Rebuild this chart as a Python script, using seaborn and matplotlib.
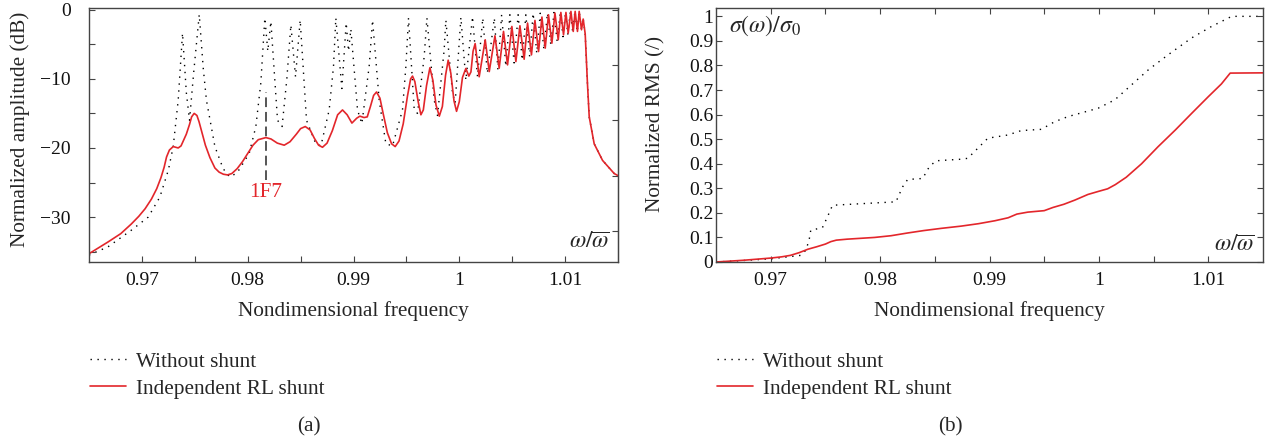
import matplotlib
matplotlib.use("Agg")
import matplotlib.pyplot as plt
import seaborn as sns
import pandas as pd
from matplotlib.ticker import FixedLocator, FuncFormatter, NullFormatter

# ---------------- data ----------------
# (a) Frequency response, without shunt (dotted)
freq_no_shunt = [0.9650, 0.9668, 0.9690, 0.9706, 0.9717, 0.9725, 0.97296, 0.97343, 0.97384, 0.9742,
                 0.9745, 0.9749, 0.97542, 0.9758, 0.9761, 0.9769, 0.97768, 0.9783, 0.9790, 0.98014,
                 0.98077, 0.98124, 0.98162, 0.9819, 0.98219, 0.98282, 0.98325, 0.9837, 0.98408, 0.98452,
                 0.98496, 0.98556, 0.98644, 0.98692, 0.9877, 0.98811, 0.98833, 0.9889, 0.98931, 0.98953,
                 0.98975, 0.99038, 0.99079, 0.99148, 0.9918, 0.99243, 0.99306, 0.99369, 0.99463, 0.99495,
                 0.9952, 0.99574, 0.99605, 0.99668, 0.99694, 0.99763, 0.99794, 0.99857, 0.99873, 0.99936,
                 0.99961, 1.00015, 1.00062, 1.00125, 1.00172, 1.00222, 1.00265, 1.00331, 1.00365, 1.0040,
                 1.0044, 1.00478, 1.00518, 1.00556, 1.00595, 1.00629, 1.00665, 1.00698, 1.00732, 1.00765,
                 1.0080, 1.00833, 1.00865, 1.00895, 1.00925, 1.00955, 1.0098, 1.01005, 1.01025, 1.0105,
                 1.01072, 1.01093, 1.01115, 1.01133, 1.01155, 1.01171, 1.0119, 1.01211, 1.01228, 1.01275,
                 1.01354, 1.01464, 1.0150]
amp_no_shunt = [-35.5, -34.3, -31.9, -30.0, -27.1, -23.2, -19.8, -13.1, -3.4, -12.0,
                -16.0, -9.0, -0.7, -8.5, -13.1, -19.8, -23.0, -24.2, -23.6, -20.8,
                -16.9, -10.6, -1.2, -6.0, -1.7, -16.0, -16.9, -10.0, -2.2, -9.7,
                -1.5, -16.0, -19.4, -19.7, -14.5, -8.2, -1.2, -11.4, -1.9, -6.0,
                -2.8, -14.5, -16.5, -8.2, -1.5, -13.1, -19.4, -19.7, -14.5, -8.2,
                -1.2, -14.5, -15.0, -6.8, -1.2, -13.1, -15.3, -5.8, -1.5, -12.1,
                -13.5, -1.1, -10.2, -1.0, -9.7, -1.2, -9.2, -1.2, -8.7, -0.73,
                -8.2, -0.73, -7.7, -0.73, -7.3, -0.73, -6.8, -0.5, -6.3, -0.5,
                -5.8, -0.48, -5.1, -0.4, -4.6, -0.35, -3.9, -0.3, -3.6, -0.2,
                -3.3, -0.2, -3.2, -0.2, -2.9, -1.35, -3.5, -10.6, -15.5, -19.4,
                -21.8, -23.7, -24.0]

# (a) Frequency response, independent RL shunt (red)
freq_rl = [0.9650, 0.9668, 0.9680, 0.9690, 0.9697, 0.9703, 0.9709, 0.9714, 0.9718, 0.9721,
           0.97233, 0.9726, 0.97296, 0.9732, 0.97343, 0.9737, 0.9740, 0.9742, 0.9745, 0.9747,
           0.97494, 0.9752, 0.9754, 0.97563, 0.9760, 0.97643, 0.9769, 0.9773, 0.9777, 0.97809,
           0.9785, 0.9790, 0.9795, 0.9800, 0.9805, 0.9810, 0.98172, 0.9822, 0.9828, 0.98345,
           0.9840, 0.9846, 0.9850, 0.98544, 0.9859, 0.9863, 0.9867, 0.98707, 0.9875, 0.9880,
           0.9885, 0.98896, 0.9894, 0.98985, 0.9903, 0.9906, 0.9910, 0.9913, 0.9916, 0.9919,
           0.99218, 0.9925, 0.9928, 0.9932, 0.9936, 0.99394, 0.9943, 0.9947, 0.9951, 0.9954,
           0.99558, 0.9958, 0.9961, 0.99637, 0.9966, 0.9969, 0.99722, 0.9975, 0.9978, 0.99811,
           0.9984, 0.9987, 0.99895, 0.9992, 0.9995, 0.99974, 1.0000, 1.0003, 1.00062, 1.0009,
           1.0011, 1.0013, 1.0015, 1.00188, 1.00245, 1.00283, 1.00337, 1.00377, 1.00418, 1.00456,
           1.00497, 1.00535, 1.00573, 1.00613, 1.00645, 1.00682, 1.00715, 1.00749, 1.00781, 1.00812,
           1.00843, 1.00875, 1.00904, 1.00935, 1.0096, 1.00985, 1.01008, 1.01029, 1.01055, 1.01077,
           1.01095, 1.01117, 1.01133, 1.01155, 1.01171, 1.0119, 1.01211, 1.01228, 1.01275, 1.01354,
           1.01464, 1.0150]
amp_rl = [-35.3, -33.6, -32.4, -31.0, -29.9, -28.8, -27.4, -25.9, -24.3, -22.8,
          -21.3, -20.3, -19.8, -19.9, -20.0, -19.7, -18.7, -18.0, -16.6, -15.5,
          -15.0, -15.3, -16.2, -17.5, -19.6, -21.4, -22.9, -23.5, -23.8, -23.9,
          -23.7, -23.0, -22.0, -20.8, -19.6, -18.8, -18.5, -18.7, -19.3, -19.6,
          -19.1, -18.0, -17.2, -16.9, -17.4, -18.6, -19.6, -19.9, -19.3, -17.5,
          -15.2, -14.5, -15.2, -16.4, -15.7, -15.4, -15.6, -15.5, -14.0, -12.4,
          -11.9, -12.8, -15.0, -17.8, -19.4, -19.8, -19.0, -16.5, -12.5, -10.0,
          -9.6, -10.4, -13.2, -15.2, -14.5, -11.0, -8.4, -10.2, -13.8, -15.4,
          -14.0, -9.5, -7.3, -9.2, -13.2, -14.7, -13.3, -9.8, -8.5, -9.6,
          -9.0, -6.0, -4.9, -9.7, -4.35, -8.95, -3.77, -8.46, -3.14, -7.98,
          -2.42, -7.5, -2.32, -7.16, -1.93, -6.53, -1.55, -6.05, -1.06, -5.56,
          -0.73, -4.84, -0.48, -4.35, -0.39, -3.63, -0.39, -3.39, -0.24, -3.14,
          -0.24, -3.14, -0.24, -2.9, -1.35, -3.5, -10.6, -15.5, -19.4, -21.8,
          -23.7, -24.0]

# (b) Normalized RMS
rms_freq_no_shunt = [0.965, 0.9675, 0.970, 0.97275, 0.97321, 0.97351, 0.97366, 0.97473, 0.97519, 0.97565,
                     0.98145, 0.98206, 0.98252, 0.98389, 0.9845, 0.98511, 0.98725, 0.98801, 0.98893, 0.98985,
                     0.99168, 0.9929, 0.99473, 0.99595, 0.99718, 0.99993, 1.00145, 1.00298, 1.00451, 1.00634,
                     1.00847, 1.0103, 1.01214, 1.0150]
rms_no_shunt = [0.0, 0.006, 0.013, 0.027, 0.048, 0.089, 0.129, 0.14, 0.184, 0.231,
                0.245, 0.306, 0.336, 0.34, 0.388, 0.412, 0.418, 0.422, 0.463, 0.504,
                0.517, 0.535, 0.54, 0.571, 0.592, 0.626, 0.66, 0.721, 0.782, 0.844,
                0.912, 0.959, 1.0, 1.0]
rms_freq_rl = [0.965, 0.9675, 0.9700, 0.9710, 0.9718, 0.9726, 0.9734, 0.9742, 0.9750, 0.9755,
               0.9760, 0.9770, 0.9795, 0.9810, 0.9825, 0.9840, 0.9856, 0.9874, 0.9890, 0.9905,
               0.9917, 0.9925, 0.9935, 0.9950, 0.9958, 0.9968, 0.9978, 0.9990, 1.0000, 1.0008,
               1.0015, 1.0025, 1.0039, 1.0054, 1.0070, 1.0085, 1.0100, 1.0112, 1.0120, 1.0150]
rms_rl = [0.0, 0.007, 0.016, 0.021, 0.027, 0.038, 0.052, 0.062, 0.073, 0.083,
          0.089, 0.093, 0.100, 0.107, 0.118, 0.128, 0.137, 0.146, 0.156, 0.168,
          0.180, 0.195, 0.203, 0.209, 0.222, 0.235, 0.252, 0.275, 0.288, 0.298,
          0.315, 0.345, 0.400, 0.469, 0.538, 0.606, 0.673, 0.725, 0.769, 0.770]

series_labels = ["Without shunt", "Independent RL shunt"]
mode_label = "1F7"
mode_freq = 0.98172
mode_span = (-24.6, -11.9)

# ---------------- style ----------------
sns.set_style("ticks")
plt.rcParams["font.family"] = ["Liberation Serif", "DejaVu Serif"]
plt.rcParams["mathtext.fontset"] = "stix"

RED = "#e3262b"
SPINE = "#444444"
DOT = (0, (1, 4))
FS = 14
LFS = 15.3

fig = plt.figure(figsize=(12.68, 4.42), dpi=100)
W, H = 1268, 442
ax1 = fig.add_axes([89 / W, 1 - 262 / H, (618 - 89) / W, (262 - 8) / H])
ax2 = fig.add_axes([716 / W, 1 - 262 / H, (1263 - 716) / W, (262 - 8) / H])

df_a_no = pd.DataFrame({"f": freq_no_shunt, "amp": amp_no_shunt})
df_a_rl = pd.DataFrame({"f": freq_rl, "amp": amp_rl})
df_b_no = pd.DataFrame({"f": rms_freq_no_shunt, "rms": rms_no_shunt})
df_b_rl = pd.DataFrame({"f": rms_freq_rl, "rms": rms_rl})

sns.lineplot(data=df_a_no, x="f", y="amp", ax=ax1, color="black", linestyle=DOT, lw=1.0,
             label=series_labels[0], sort=False)
sns.lineplot(data=df_a_rl, x="f", y="amp", ax=ax1, color=RED, lw=1.2,
             label=series_labels[1], sort=False)
sns.lineplot(data=df_b_no, x="f", y="rms", ax=ax2, color="black", linestyle=DOT, lw=1.0,
             label=series_labels[0], sort=False)
sns.lineplot(data=df_b_rl, x="f", y="rms", ax=ax2, color=RED, lw=1.2,
             label=series_labels[1], sort=False)

# mode annotation
ax1.plot([mode_freq, mode_freq], list(mode_span), color="#555555", lw=1.4, linestyle=(0, (5, 2.5)))
ax1.text(mode_freq, -26.5, mode_label, color=RED, fontsize=LFS, ha="center", va="center")

fmt = FuncFormatter(lambda v, p: f"{v:g}".replace("-", "\u2212"))
for ax in (ax1, ax2):
    ax.set_xlim(0.965, 1.015)
    ax.xaxis.set_major_locator(FixedLocator([0.97, 0.98, 0.99, 1.0, 1.01]))
    ax.xaxis.set_minor_locator(FixedLocator([0.975, 0.985, 0.995, 1.005]))
    ax.xaxis.set_major_formatter(fmt)
    for s in ax.spines.values():
        s.set_color(SPINE)
        s.set_linewidth(1.0)
        s.set_visible(True)
    ax.tick_params(which="both", direction="in", length=4, width=0.8, color=SPINE,
                   labelsize=FS, labelcolor="#111111")
    ax.tick_params(axis="x", which="both", pad=7)
    ax.set_xlabel("Nondimensional frequency", fontsize=LFS, va="center")
    ax.xaxis.set_label_coords(0.5, -0.193)

# left panel
ax1.set_ylim(-36.5, 0.25)
ax1.yaxis.set_major_locator(FixedLocator([-30, -20, -10, 0]))
ax1.yaxis.set_minor_locator(FixedLocator([-35, -25, -15, -5]))
ax1.yaxis.set_major_formatter(fmt)
ax1.tick_params(axis="y", which="both", pad=13)
ax1.set_ylabel("Normalized amplitude (dB)", fontsize=LFS, va="center")
ax1.yaxis.set_label_coords(-0.130, 0.524)
sec = ax1.secondary_yaxis("right")
sec.yaxis.set_major_locator(FixedLocator([0, -8, -16, -24, -32]))
sec.yaxis.set_major_formatter(NullFormatter())
sec.tick_params(direction="in", length=4, width=0.8, color=SPINE)
sec.spines["right"].set_color(SPINE)
ax1.text(0.985, 0.075, r"$\omega/\overline{\omega}$", transform=ax1.transAxes,
         fontsize=17, ha="right", va="center")

# right panel
ax2.set_ylim(0, 1.034)
ax2.yaxis.set_major_locator(FixedLocator([i / 10 for i in range(11)]))
ax2.yaxis.set_major_formatter(fmt)
ax2.tick_params(axis="y", which="both", pad=2)
ax2.tick_params(which="both", top=True, right=True)
ax2.set_ylabel("Normalized RMS (/)", fontsize=LFS, va="center")
ax2.yaxis.set_label_coords(-0.110, 0.543)
ax2.text(0.985, 0.065, r"$\omega/\overline{\omega}$", transform=ax2.transAxes,
         fontsize=17, ha="right", va="center")
ax2.text(0.023, 0.93, r"$\sigma(\omega)/\sigma_0$", transform=ax2.transAxes,
         fontsize=17, ha="left", va="center")

# legends below plots
for ax, x0 in ((ax1, 90), (ax2, 717)):
    ax.legend(loc="upper left", bbox_to_anchor=(x0 / W, 1 - 352 / H), bbox_transform=fig.transFigure,
              frameon=False, fontsize=LFS, handlelength=1.7, handletextpad=0.45,
              labelspacing=0.32, borderpad=0, borderaxespad=0)

fig.text(309 / W, 1 - 427 / H, "(a)", fontsize=LFS, ha="center", va="center")
fig.text(950 / W, 1 - 427 / H, "(b)", fontsize=LFS, ha="center", va="center")

fig.savefig("out.png", dpi=100, facecolor="white")
